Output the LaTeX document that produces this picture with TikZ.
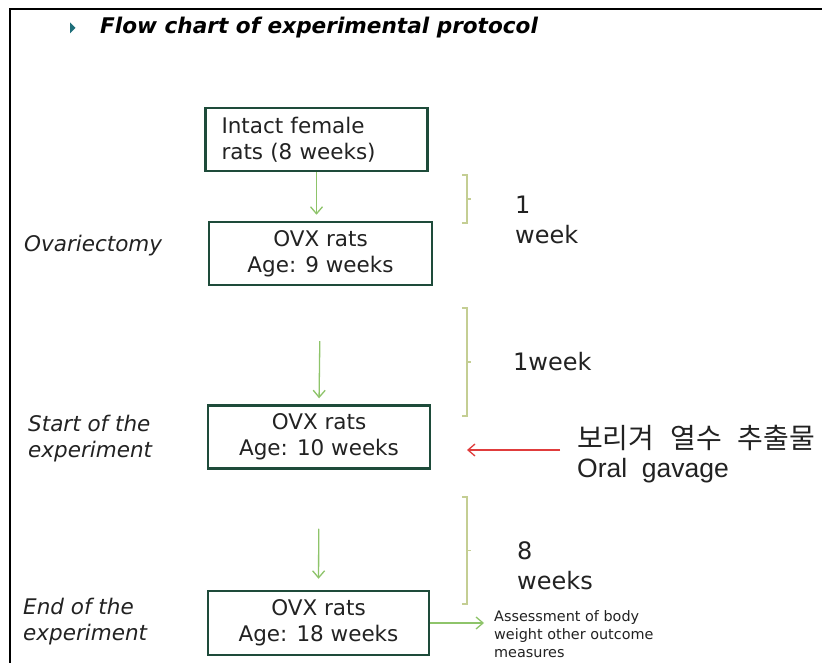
\documentclass[tikz,border=0pt]{standalone}
\usepackage{fontspec}
\setmainfont{DejaVu Sans}
\newfontfamily\hangulfont{Noto Sans CJK KR}
\newfontfamily\gavagefont{Liberation Sans}
\newcommand\dosefont{\hangulfont\fontsize{28}{30}\selectfont\spaceskip=16pt\relax}
\usepackage{tikz}
\usetikzlibrary{positioning,calc,arrows.meta}

\definecolor{boxgreen}{HTML}{1E4B3A}
\definecolor{flowgreen}{HTML}{8EC46A}
\definecolor{bracegreen}{HTML}{C4CE93}
\definecolor{doseRed}{HTML}{E03C3C}
\definecolor{bulletteal}{HTML}{1F6F7A}
\definecolor{inkgray}{HTML}{222222}

\begin{document}
\begin{tikzpicture}[x=1pt,y=-1pt,
  stagebox/.style={draw=boxgreen, line width=2.5pt, minimum width=222pt,
    minimum height=63pt, align=center, text=inkgray,
    font=\fontsize{21.5}{26}\selectfont},
  flowarrow/.style={draw=flowgreen, line width=1.3pt,
    -{Straight Barb[length=7pt,width=12pt]}},
  dosearrow/.style={draw=doseRed, line width=1.3pt,
    -{Straight Barb[length=7pt,width=12pt]}},
  phase/.style={anchor=west, align=left, inner sep=0pt, text=inkgray,
    font=\itshape\fontsize{21.5}{26}\selectfont},
  span/.style={anchor=west, align=left, inner sep=0pt, text=inkgray,
    font=\fontsize{24}{30}\selectfont},
  brace/.style={draw=bracegreen, line width=1.3pt}]
\fill[white] (0,0) rectangle (822,663);
\useasboundingbox (0,0) rectangle (822,663);
%% slide frame (top and left edge only)
\draw[line width=2pt] (822,9) -- (10,9) -- (10,663);

%% heading
\fill[bulletteal] (70,22.5) -- (75.5,28) -- (70,33.5) -- cycle;
\node[anchor=west, inner sep=0pt, font=\bfseries\itshape\fontsize{21.6}{26}\selectfont]
  (heading) at (100,28) {Flow chart of experimental protocol};

%% stages
\node[stagebox, text width=190pt, align=left, inner xsep=12.5pt]
  (intact) at (316.5,139.5) {Intact female\\rats (8 weeks)};
\node[stagebox, minimum width=223pt] (ovx9) at (320.5,253.5) {OVX rats\\Age: 9 weeks};
\node[stagebox] (ovx10) at (319,437) {OVX rats\\Age: 10 weeks};
\node[stagebox, minimum width=221pt, minimum height=64pt]
  (ovx18) at (318.5,623) {OVX rats\\Age: 18 weeks};

\draw[flowarrow, shorten >=6pt] (intact.south) -- (intact.south |- ovx9.north);
\draw[flowarrow, shorten <=55pt, shorten >=6pt] (ovx9.south) -- (ovx10.north);
\draw[flowarrow, shorten <=59pt, shorten >=11pt] (ovx10.south) -- (ovx18.north);

%% procedure names on the left
\node[phase] (ovariectomy) at (24,246) {Ovariectomy};
\node[phase] (start) at (28,438.5) {Start of the\\experiment};
\node[phase] (finish) at (23,622) {End of the\\experiment};

%% time spans
\foreach \ya/\yb in {175/223, 308/416, 497/604} {
  \pgfmathsetmacro{\ym}{(\ya+\yb)/2}
  \draw[brace] (462,\ya) -- (467,\ya) -- (467,\yb) -- (462,\yb);
  \draw[brace] (467,\ym) -- (471,\ym);
}
\node[span] (span1) at (515,219.5) {1\\week};
\node[span] (span2) at (513,362) {1week};
\node[span] (span3) at (517,566) {8\\weeks};

%% treatment
\node[anchor=west, inner sep=0pt, text=inkgray, font=\dosefont]
  (dose) at (577,438) {보리겨 열수 추출물};
\node[anchor=west, inner sep=0pt, text=inkgray, font=\gavagefont\fontsize{26.5}{32}\selectfont]
  (gavage) at (577,471) {Oral\ \ gavage};
\coordinate (dosetip) at (467,450);
\draw[dosearrow, shorten <=17pt] (dosetip -| dose.west) -- (dosetip);

%% outcome
\node[anchor=north west, align=left, inner sep=0pt, text=inkgray,
  font=\fontsize{14.4}{18}\selectfont]
  (assess) at (494,610) {Assessment of body\\weight other outcome\\measures};
\draw[flowarrow, shorten >=10pt] (ovx18.east) -- (ovx18.east -| assess.west);
\end{tikzpicture}
\end{document}
